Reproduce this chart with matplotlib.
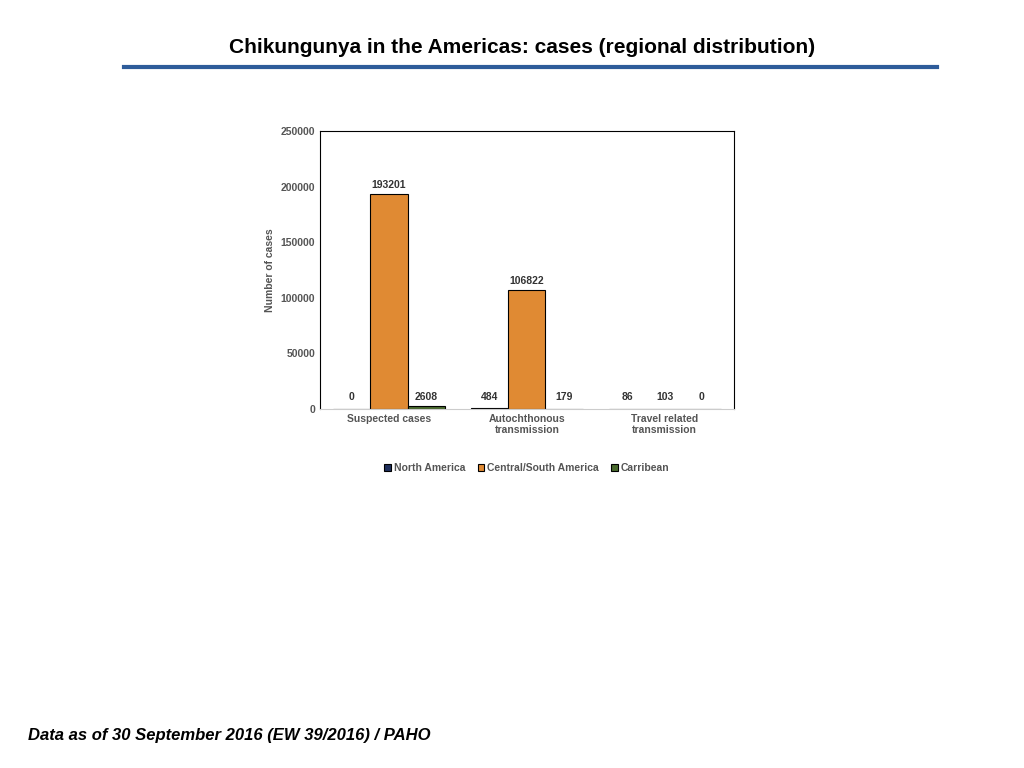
import matplotlib
matplotlib.use("Agg")
import matplotlib.pyplot as plt
import numpy as np

categories = ["Suspected cases", "Autochthonous\ntransmission", "Travel related\ntransmission"]
series_names = ["North America", "Central/South America", "Carribean"]
north_america = [0, 484, 86]
central_south = [193201, 106822, 103]
caribbean = [2608, 179, 0]
colors = ["#1f2f5c", "#e08a33", "#4a6b2e"]

plt.rcParams['font.family'] = ['Liberation Sans', 'DejaVu Sans']
fig = plt.figure(figsize=(10.24, 7.68), dpi=100)
fig.text(0.51, 0.938, "Chikungunya in the Americas: cases (regional distribution)",
         ha="center", va="center", fontsize=15, fontweight="bold")
fig.add_artist(plt.Line2D([0.121, 0.915], [0.913, 0.913], color="#2e5c9a", lw=3))
fig.text(0.027, 0.036, "Data as of 30 September 2016 (EW 39/2016) / PAHO",
         fontsize=12, fontweight="bold", style="italic")

ax = fig.add_axes([0.3125, 0.4674, 0.404, 0.362])
x = np.arange(len(categories))
w = 0.27
for i, (vals, name, c) in enumerate(zip([north_america, central_south, caribbean], series_names, colors)):
    pos = x + (i - 1) * w
    ax.bar(pos, vals, w, color=c, edgecolor="black", linewidth=0.8, label=name)
    for p, v in zip(pos, vals):
        ax.text(p, max(v, 3000) + 3500 if v > 10000 else 6500, str(v), ha="center", va="bottom",
                fontsize=7.5, fontweight="bold", color="#333333")
ax.set_xlim(-0.5, 2.5)
ax.set_ylim(0, 250000)
ax.set_yticks(range(0, 250001, 50000))
ax.set_xticks(x)
ax.set_xticklabels(categories, fontsize=7.5, fontweight="bold", color="#555555")
ax.tick_params(axis="y", labelsize=7.5, length=0, labelcolor="#555555")
ax.tick_params(axis="x", length=0)
for lab in ax.get_yticklabels():
    lab.set_fontweight("bold")
ax.set_ylabel("Number of cases", fontsize=7.5, fontweight="bold", color="#555555", labelpad=4)
ax.spines["bottom"].set_color("#cccccc")
ax.legend(loc="upper center", bbox_to_anchor=(0.5, -0.16), ncol=3, frameon=False,
          fontsize=7.5, handlelength=0.6, handleheight=0.6, columnspacing=1.2, handletextpad=0.3,
          prop={"weight": "bold", "size": 7.5})
for t in ax.get_legend().get_texts():
    t.set_color("#555555")
fig.savefig("out.png", dpi=100)
